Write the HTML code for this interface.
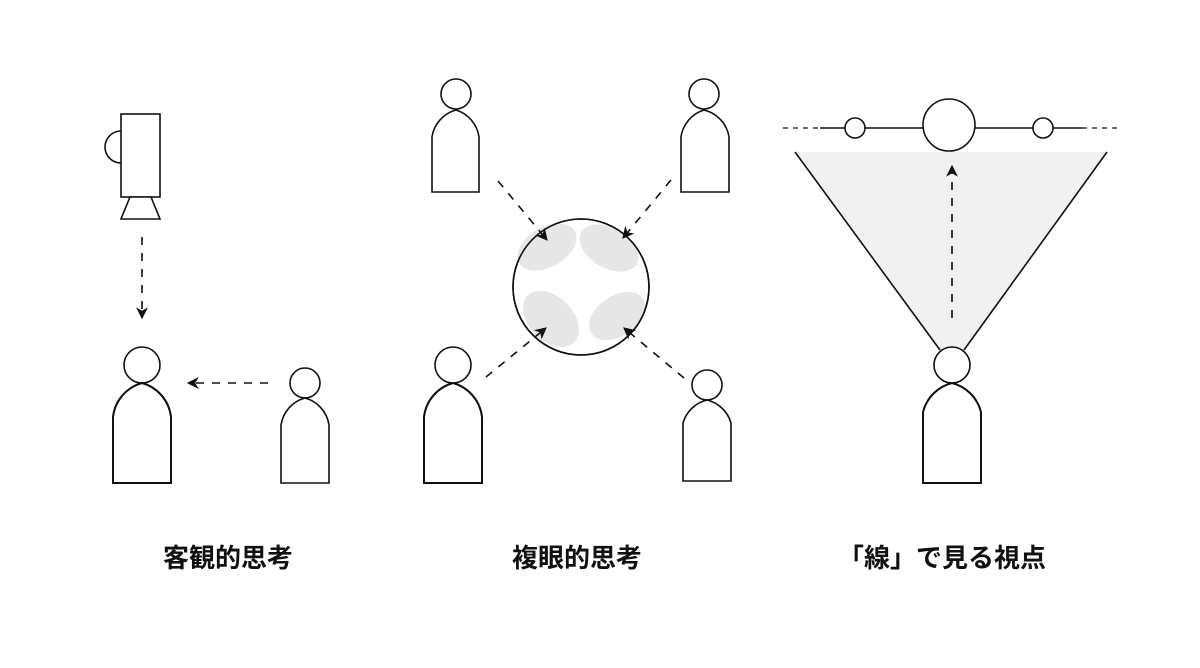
<!DOCTYPE html>
<html><head><meta charset="utf-8"><style>
html,body{margin:0;padding:0;background:#fff;}
.t{position:absolute;top:540px;font:bold 26px "Liberation Sans","Noto Sans CJK JP",sans-serif;color:#111;white-space:nowrap;line-height:36px;}
</style></head><body>
<div style="position:relative;width:1200px;height:668px;overflow:hidden">
<svg width="1200" height="668" viewBox="0 0 1200 668" style="position:absolute;left:0;top:0">
<defs>
<marker id="a" viewBox="0 0 10 10" refX="9" refY="5" markerWidth="12" markerHeight="12" orient="auto" markerUnits="userSpaceOnUse"><path d="M0,0 L10,5 L0,10 L3,5 Z" fill="#111"/></marker>
</defs>
<g fill="none" stroke="#111" stroke-width="1.6">
<rect x="121" y="114" width="39" height="83" fill="#fff"/>
<path d="M121,131 A16,16 0 0 0 121,163"/>
<path d="M130,197 L151,197 L160,219 L121,219 Z" fill="#fff"/>
<line x1="142" y1="237" x2="142" y2="318" stroke-dasharray="8,8" marker-end="url(#a)"/>
<line x1="268" y1="383" x2="188" y2="383" stroke-dasharray="8,8" marker-end="url(#a)"/>
<circle cx="142" cy="365" r="18"/>
<path d="M113,483 V417 A40,40 0 0 1 142,383 A40,40 0 0 1 171,417 V483 Z" stroke-width="2"/>
<circle cx="305" cy="383" r="15"/>
<path d="M281,483 V425 A33,33 0 0 1 305,398 A33,33 0 0 1 329,425 V483 Z"/>

<circle cx="581" cy="287" r="68" fill="#fff"/>
<g fill="#e6e6e6" stroke="none">
<ellipse cx="547" cy="247" rx="32" ry="20" transform="rotate(-30 547 247)"/>
<ellipse cx="609" cy="248" rx="32" ry="20" transform="rotate(30 609 248)"/>
<ellipse cx="551" cy="319" rx="33" ry="22" transform="rotate(45 551 319)"/>
<ellipse cx="617" cy="316" rx="31" ry="20" transform="rotate(-35 617 316)"/>
</g>
<circle cx="581" cy="287" r="68"/>
<line x1="498" y1="181" x2="547" y2="240" stroke-dasharray="8,8" marker-end="url(#a)"/>
<line x1="671" y1="180" x2="623" y2="238" stroke-dasharray="8,8" marker-end="url(#a)"/>
<line x1="486" y1="377" x2="546" y2="328" stroke-dasharray="8,8" marker-end="url(#a)"/>
<line x1="684" y1="378" x2="624" y2="328" stroke-dasharray="8,8" marker-end="url(#a)"/>
<circle cx="456" cy="94" r="15"/>
<path d="M432,192 V137 A33,33 0 0 1 456,110 A33,33 0 0 1 479,137 V192 Z"/>
<circle cx="704" cy="94" r="15"/>
<path d="M681,192 V137 A33,33 0 0 1 704,110 A33,33 0 0 1 729,137 V192 Z"/>
<circle cx="453" cy="365" r="18"/>
<path d="M424,483 V417 A40,40 0 0 1 453,383 A40,40 0 0 1 482,417 V483 Z" stroke-width="2"/>
<circle cx="707" cy="385" r="15"/>
<path d="M683,481 V423 A33,33 0 0 1 707,400 A33,33 0 0 1 731,423 V481 Z"/>

<path d="M795,152 L1107,152 L962,352 L942,352 Z" fill="#f1f1f1" stroke="none"/>
<line x1="795" y1="152" x2="940" y2="350"/>
<line x1="1107" y1="152" x2="964" y2="350"/>
<line x1="783" y1="128" x2="820" y2="128" stroke-dasharray="5,5" stroke-width="1.2"/>
<line x1="820" y1="128" x2="1082" y2="128"/>
<line x1="1082" y1="128" x2="1120" y2="128" stroke-dasharray="5,5" stroke-width="1.2"/>
<circle cx="855" cy="128" r="10" fill="#fff"/>
<circle cx="1043" cy="128" r="10" fill="#fff"/>
<circle cx="949" cy="125" r="26" fill="#fff"/>
<line x1="952" y1="318" x2="952" y2="166" stroke-dasharray="8,8" marker-end="url(#a)"/>
<circle cx="952" cy="365" r="18" fill="#fff"/>
<path d="M923,483 V412 A40,40 0 0 1 952,383 A40,40 0 0 1 981,412 V483 Z" stroke-width="2"/>
</g>
</svg>
<div class="t" style="left:163px">客観的思考</div>
<div class="t" style="left:512px">複眼的思考</div>
<div class="t" style="left:838px">「線」で見る視点</div>
</div>
</body></html>
